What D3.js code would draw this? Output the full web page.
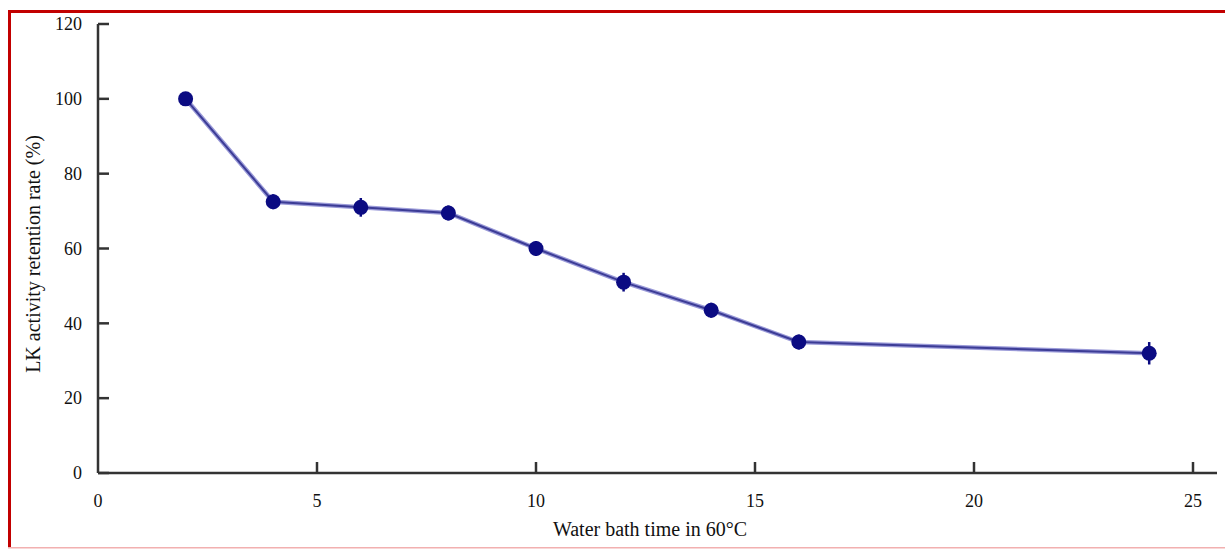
<!DOCTYPE html>
<html><head><meta charset="utf-8">
<script src="https://cdn.jsdelivr.net/npm/d3@7"></script>
<style>
html,body{margin:0;padding:0;background:#fff;}
svg{display:block;}
text{font-family:"Liberation Serif","Times New Roman",serif;fill:#111;}
</style></head>
<body>
<svg id="chart" width="1225" height="550"></svg>
<script>
const times = [2, 4, 6, 8, 10, 12, 14, 16, 24];
const retention = [100, 72.5, 71, 69.5, 60, 51, 43.5, 35, 32];
const errors = [1.5, 2, 2.5, 2, 2, 2.5, 2, 2, 3];
const xTicks = [0, 5, 10, 15, 20, 25];
const yTicks = [0, 20, 40, 60, 80, 100, 120];
const xLabel = "Water bath time in 60°C";
const yLabel = "LK activity retention rate (%)";

const svg = d3.select("#chart");
const x = d3.scaleLinear().domain([0, 25]).range([98, 1193]);
const y = d3.scaleLinear().domain([0, 120]).range([473, 24]);

// frame
svg.append("rect").attr("x", 8).attr("y", 10).attr("width", 1217).attr("height", 3).attr("fill", "#c20000");
svg.append("rect").attr("x", 8).attr("y", 10).attr("width", 3).attr("height", 538).attr("fill", "#c20000");
svg.append("rect").attr("x", 8).attr("y", 547).attr("width", 1217).attr("height", 1.5).attr("fill", "#f2b0b0");

// axes lines
svg.append("line").attr("x1", x(0)).attr("x2", 1217).attr("y1", y(0)).attr("y2", y(0))
  .attr("stroke", "#333").attr("stroke-width", 2.5);
svg.append("line").attr("x1", x(0)).attr("x2", x(0)).attr("y1", y(120)).attr("y2", y(0))
  .attr("stroke", "#333").attr("stroke-width", 2.5);

// y ticks (inward)
svg.selectAll(".yt").data(yTicks).enter().append("line")
  .attr("x1", x(0)).attr("x2", x(0) + 11).attr("y1", d => y(d)).attr("y2", d => y(d))
  .attr("stroke", "#333").attr("stroke-width", 2.5);
svg.selectAll(".yl").data(yTicks).enter().append("text")
  .attr("x", 82).attr("y", d => y(d)).attr("dy", "0.35em")
  .attr("text-anchor", "end").attr("font-size", 18).text(d => d);

// x ticks (inward)
svg.selectAll(".xt").data(xTicks.filter(d => d > 0)).enter().append("line")
  .attr("x1", d => x(d)).attr("x2", d => x(d)).attr("y1", y(0)).attr("y2", y(0) - 11)
  .attr("stroke", "#333").attr("stroke-width", 2.5);
svg.selectAll(".xl").data(xTicks).enter().append("text")
  .attr("x", d => x(d)).attr("y", 507)
  .attr("text-anchor", "middle").attr("font-size", 18).text(d => d);

// axis titles
svg.append("text").attr("x", 650).attr("y", 536).attr("text-anchor", "middle")
  .attr("font-size", 20).text(xLabel);
svg.append("text").attr("transform", "translate(40,254) rotate(-90)")
  .attr("text-anchor", "middle").attr("font-size", 20).text(yLabel);

// data line
const pts = times.map((t, i) => [t, retention[i]]);
const line = d3.line().x(d => x(d[0])).y(d => y(d[1]));
svg.append("path").datum(pts).attr("d", line).attr("fill", "none")
  .attr("stroke", "#9a9ad8").attr("stroke-width", 4.5);
svg.append("path").datum(pts).attr("d", line).attr("fill", "none")
  .attr("stroke", "#3c3c96").attr("stroke-width", 2);

// error bars
svg.selectAll(".eb").data(pts).enter().append("line")
  .attr("x1", d => x(d[0])).attr("x2", d => x(d[0]))
  .attr("y1", (d, i) => y(d[1] + errors[i])).attr("y2", (d, i) => y(d[1] - errors[i]))
  .attr("stroke", "#0a0a80").attr("stroke-width", 2.5);

// markers
svg.selectAll(".mk").data(pts).enter().append("circle")
  .attr("cx", d => x(d[0])).attr("cy", d => y(d[1])).attr("r", 7.5)
  .attr("fill", "#0b0b82");
</script>
</body></html>
